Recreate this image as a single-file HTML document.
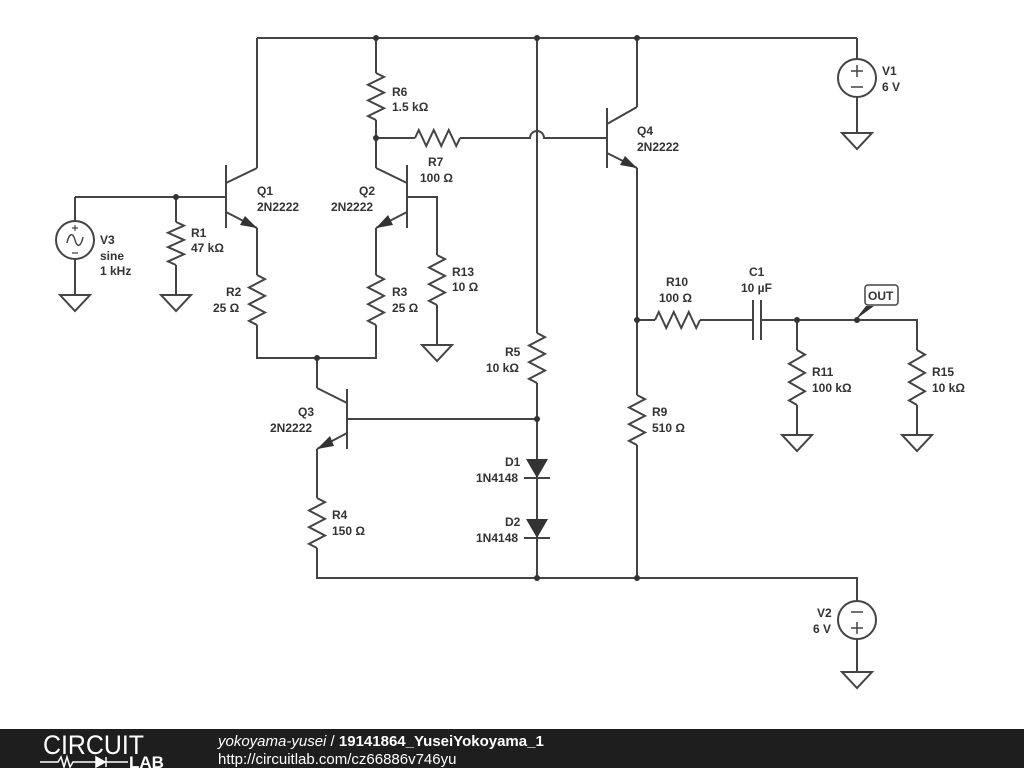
<!DOCTYPE html>
<html><head><meta charset="utf-8"><style>
html,body{margin:0;padding:0;background:#fff;width:1024px;height:768px;overflow:hidden}
svg{display:block}
text{font-family:"Liberation Sans",sans-serif;font-size:12px;font-weight:bold;fill:#333}
.w{stroke:#444;stroke-width:2;fill:none}
</style></head><body>
<svg id="s" width="1024" height="768" viewBox="0 0 1024 768">
<g class="w" id="g">
<path d="M257 38H857M257 38V168M376 38V73M376 120V168M537 38V333M537 383V578M637 38V107"/>
<path d="M75 197H226M176 197V222M176 265V295M75 197V221M75 259V295"/>
<path d="M257 228V275M257 325V358H376V325M376 275V228M317 358V388M407 197H437V255M437 305V345"/>
<path d="M376 138H415M460 138H530A7 7 0 0 1 544 138H607"/>
<path d="M637 168V395M637 445V578M317 449V498M317 548V578H857V601M857 639V672"/>
<path d="M347 419H537M637 320H655M700 320H753M761 320H917V350M917 405V435M797 320V350M797 405V435M857 38V59M857 97V133"/>
<path d="M226 165V228M226 183L257 168M226 212L257 228"/>
<path d="M407 165V228M407 183L376 168M407 212L376 228"/>
<path d="M607 108V168M607 124L637 107M607 153L637 168"/>
<path d="M347 389V449M347 403L317 388M347 433L317 449"/>
<path d="M753 300V340M761 300V340"/>
<path d="M524 478H550M524 538H550"/>
<circle cx="857" cy="78" r="19"/><circle cx="857" cy="620" r="19"/><circle cx="75" cy="240" r="19"/>
<path d="M851 71H863M857 65V77M851 87H863M851 612H863M851 628H863M857 622V634" style="stroke-width:1.5"/>
<path d="M67 243C69 233 73 232 75 240C77 248 81 247 83 237" style="stroke-width:1.5"/>
<path d="M72 228H78M75 225V231M72 253H78" style="stroke-width:1.2"/>
</g>
<g fill="#333">
<circle cx="176" cy="197" r="3"/><circle cx="376" cy="38" r="3"/><circle cx="537" cy="38" r="3"/><circle cx="637" cy="38" r="3"/>
<circle cx="376" cy="138" r="3"/><circle cx="317" cy="358" r="3"/><circle cx="537" cy="419" r="3"/><circle cx="537" cy="578" r="3"/>
<circle cx="637" cy="578" r="3"/><circle cx="637" cy="320" r="3"/><circle cx="797" cy="320" r="3"/><circle cx="857" cy="320" r="3"/>
<path d="M526 459H548L537 478Z"/><path d="M526 519H548L537 538Z"/>
<path d="M257 228L240 225L245 216Z"/><path d="M376 228L388 215L393 225Z"/>
<path d="M637 168L620 165L625 156Z"/><path d="M317 449L330 436L334 446Z"/>
<path d="M855 320L874 306L866 306Z"/>
</g>
<rect x="865" y="285" width="33" height="20" rx="3" fill="#fff" stroke="#444" stroke-width="1.5"/>
<text x="868" y="300">OUT</text>
<text x="257" y="195">Q1</text><text x="257" y="211">2N2222</text>
<text x="359" y="195">Q2</text><text x="331" y="211">2N2222</text>
<text x="637" y="135">Q4</text><text x="637" y="151">2N2222</text>
<text x="298" y="416">Q3</text><text x="270" y="432">2N2222</text>
<text x="100" y="244">V3</text>
<text x="100" y="260">sine</text>
<text x="100" y="275">1 kHz</text>
<text x="191" y="237">R1</text><text x="191" y="252">47 kΩ</text>
<text x="226" y="296">R2</text><text x="213" y="312">25 Ω</text>
<text x="392" y="296">R3</text><text x="392" y="312">25 Ω</text>
<text x="392" y="96">R6</text><text x="392" y="111">1.5 kΩ</text>
<text x="428" y="166">R7</text><text x="420" y="182">100 Ω</text>
<text x="452" y="276">R13</text><text x="452" y="291">10 Ω</text>
<text x="505" y="356">R5</text><text x="486" y="372">10 kΩ</text>
<text x="505" y="466">D1</text><text x="476" y="482">1N4148</text>
<text x="505" y="526">D2</text><text x="476" y="542">1N4148</text>
<text x="332" y="519">R4</text><text x="332" y="535">150 Ω</text>
<text x="652" y="416">R9</text><text x="652" y="432">510 Ω</text>
<text x="666" y="286">R10</text><text x="659" y="302">100 Ω</text>
<text x="749" y="276">C1</text><text x="741" y="292">10 µF</text>
<text x="812" y="376">R11</text><text x="812" y="392">100 kΩ</text>
<text x="932" y="376">R15</text><text x="932" y="392">10 kΩ</text>
<text x="882" y="75">V1</text><text x="882" y="91">6 V</text>
<text x="817" y="617">V2</text><text x="813" y="633">6 V</text>
<rect x="0" y="729" width="1024" height="39" fill="#1e1e1e"/>
<text x="43" y="754" textLength="101" lengthAdjust="spacingAndGlyphs" style="font-size:27px;font-weight:normal;fill:#fff">CIRCUIT</text>
<path d="M40 762H58L61 757L64 767L67 757L70 767L73 762H96M106 762H128" stroke="#fff" stroke-width="1.5" fill="none"/>
<path d="M96 757V767L105 762Z M106 757V767" fill="#fff" stroke="#fff" stroke-width="1.5"/>
<text x="129" y="768" style="font-size:17px;fill:#fff">LAB</text>
<text x="218" y="746" style="font-size:15px;fill:#fff"><tspan style="font-style:italic;font-weight:normal">yokoyama-yusei</tspan><tspan style="font-weight:normal"> / </tspan>19141864_YuseiYokoyama_1</text>
<text x="218" y="764" style="font-size:15px;font-weight:normal;fill:#fff">http://circuitlab.com/cz66886v746yu</text>
</svg>
<script>
var g=document.getElementById('g');
function zz(x,y,len,vert){var n=6,a=8,s=len/n,d='M'+x+' '+y;
for(var i=0;i<n;i++){var t=s*(i+0.5),o=(i%2?-a:a);
d+=vert?' L'+(x+o)+' '+(y+t):' L'+(x+t)+' '+(y-o);}
d+=vert?' L'+x+' '+(y+len):' L'+(x+len)+' '+y;
var p=document.createElementNS('http://www.w3.org/2000/svg','path');p.setAttribute('d',d);g.appendChild(p);}
zz(176,222,43,1);zz(257,275,50,1);zz(376,275,50,1);zz(376,73,47,1);zz(437,255,50,1);
zz(537,333,50,1);zz(317,498,50,1);zz(637,395,50,1);zz(797,350,55,1);zz(917,350,55,1);
zz(415,138,45,0);zz(655,320,45,0);
function gnd(x,y){var p=document.createElementNS('http://www.w3.org/2000/svg','path');
p.setAttribute('d','M'+(x-15)+' '+y+'H'+(x+15)+'L'+x+' '+(y+16)+'Z');g.appendChild(p);}
gnd(75,295);gnd(176,295);gnd(437,345);gnd(857,133);gnd(797,435);gnd(917,435);gnd(857,672);
</script>
</body></html>
